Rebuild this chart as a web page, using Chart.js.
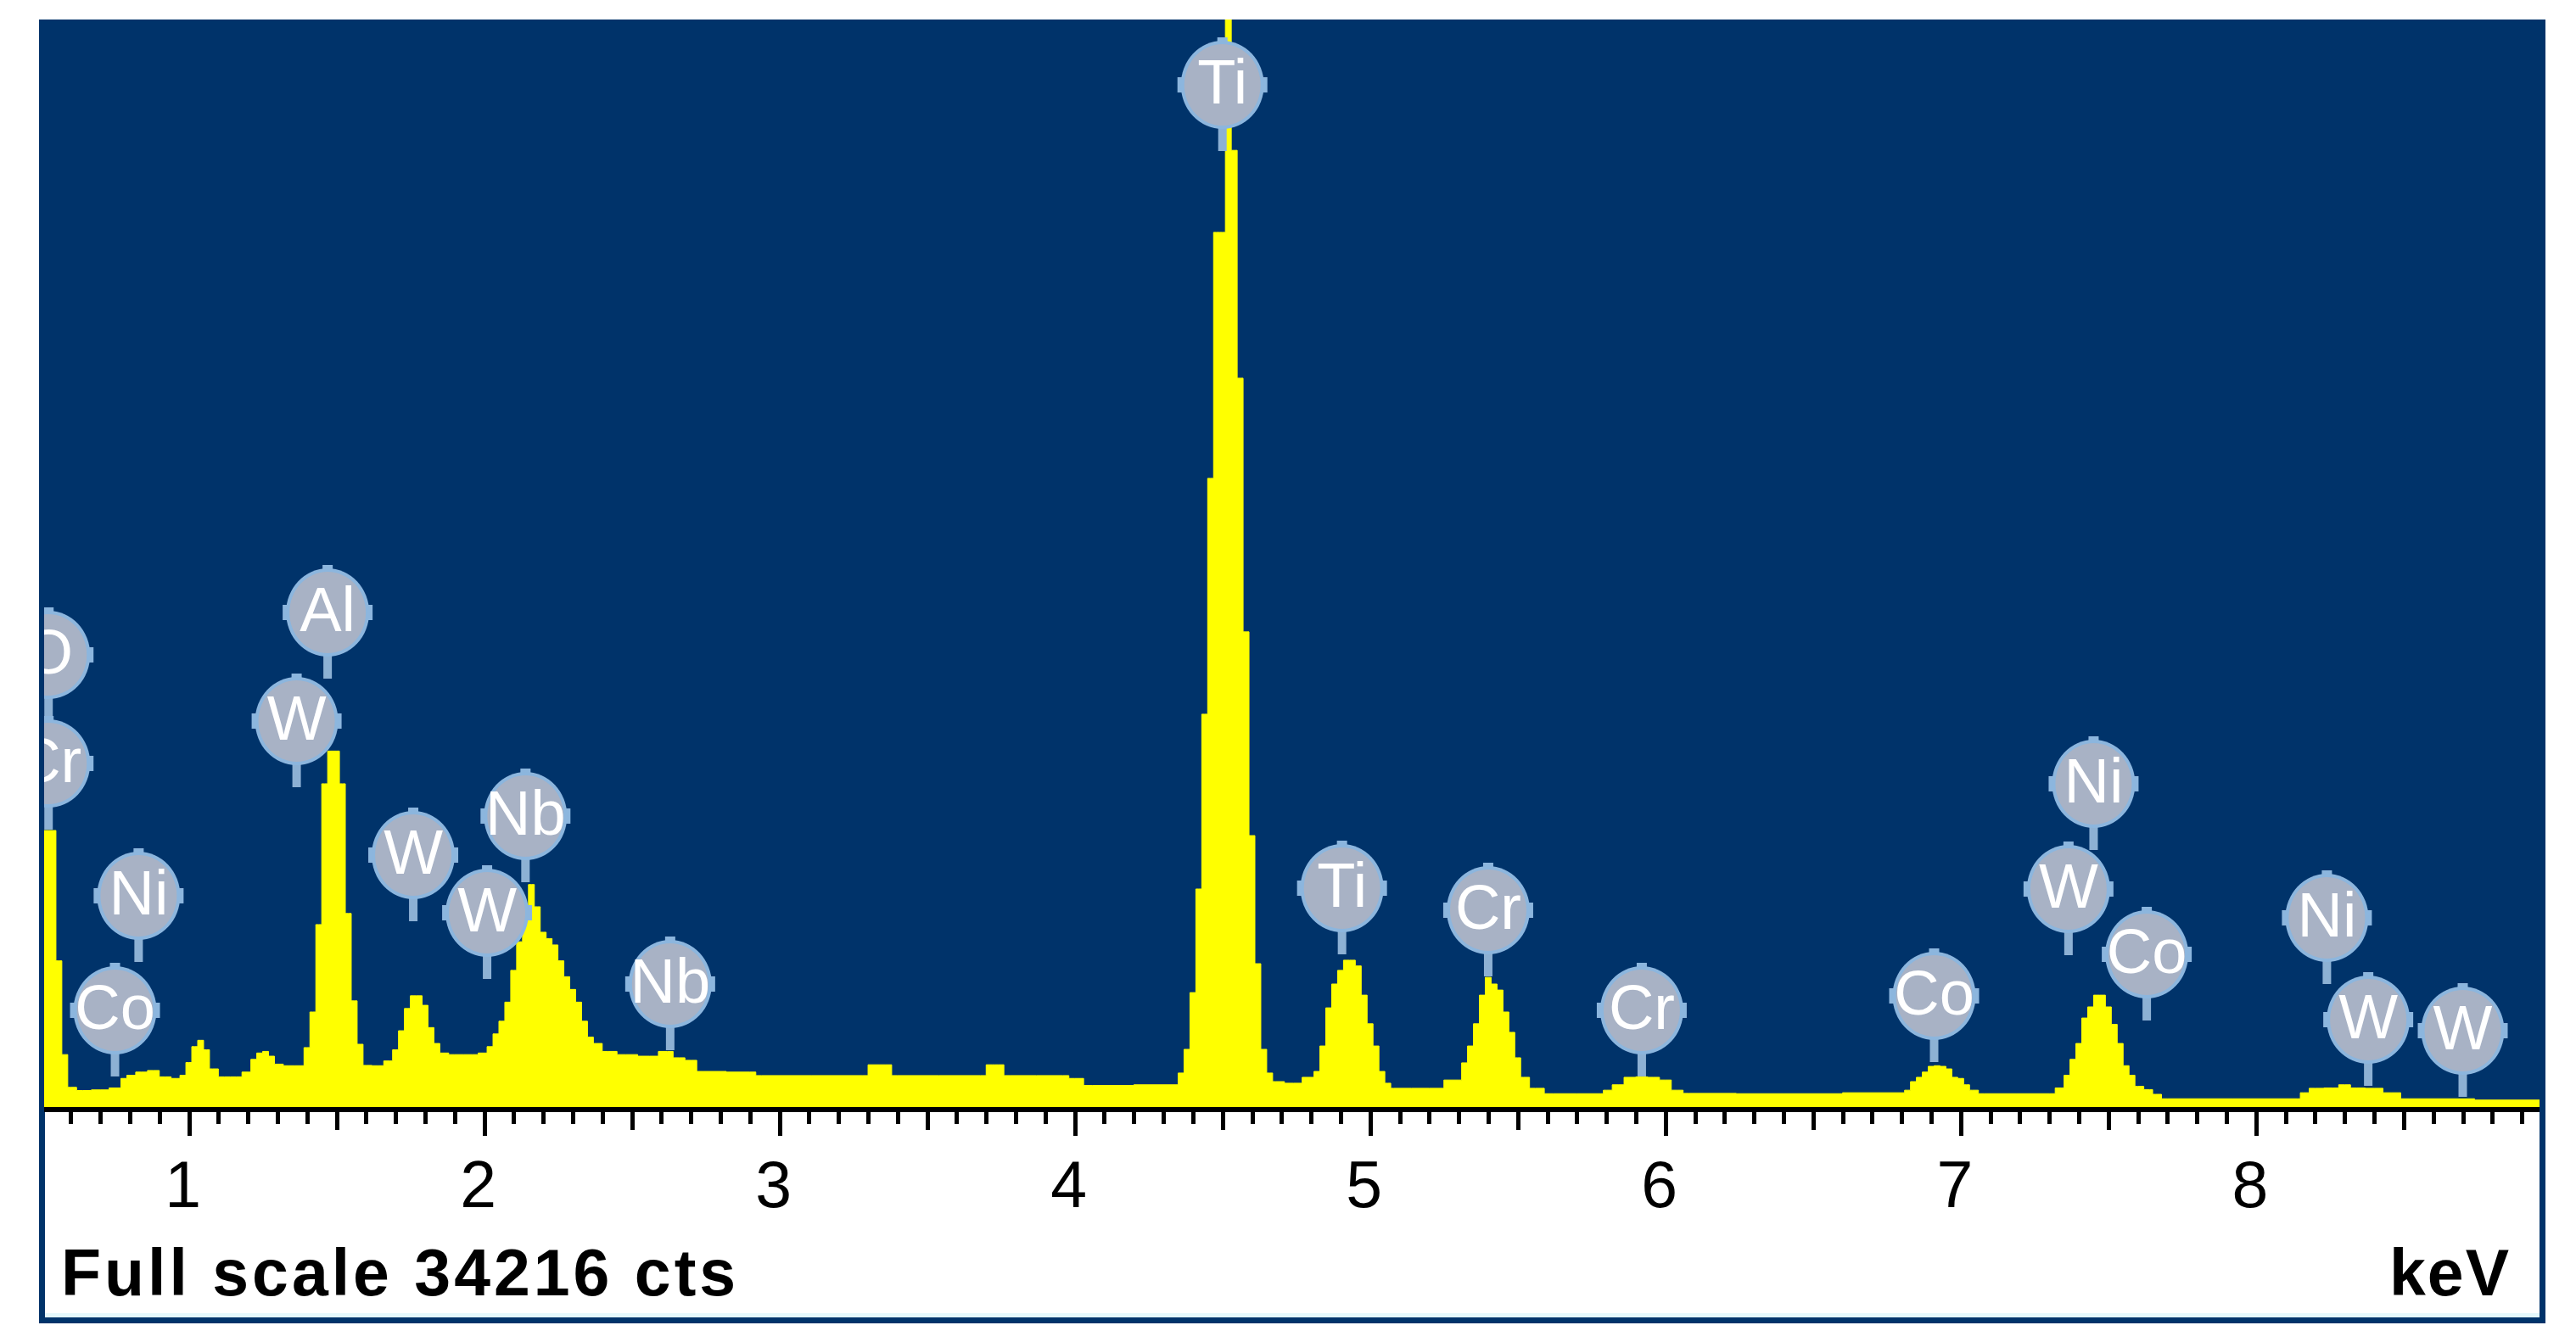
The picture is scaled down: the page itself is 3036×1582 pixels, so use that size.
<!DOCTYPE html>
<html lang="en">
<head>
  <meta charset="UTF-8" />
  <title>EDS spectrum</title>
  <script src="https://cdn.jsdelivr.net/npm/chart.js@4.4.1/dist/chart.umd.min.js"></script>
  <style>
    html, body { margin: 0; padding: 0; background: #ffffff; }
  </style>
</head>
<body>
<canvas id="spectrum" width="3036" height="1582"></canvas>
<script>
    // spectrum channels (keV) and counts
    const energies = [
      0.51, 0.54, 0.56, 0.58, 0.60, 0.64, 0.70, 0.76, 0.78, 0.80, 0.84, 0.88, 0.92, 0.96, 0.98,
      1.00, 1.02, 1.04, 1.06, 1.08, 1.12, 1.16, 1.20, 1.22, 1.24, 1.26, 1.28, 1.30, 1.34, 1.38,
      1.40, 1.42, 1.44, 1.46, 1.48, 1.50, 1.52, 1.54, 1.56, 1.58, 1.60, 1.64, 1.68, 1.70, 1.72,
      1.74, 1.76, 1.78, 1.80, 1.82, 1.84, 1.86, 1.90, 1.96, 2.00, 2.02, 2.04, 2.06, 2.08, 2.10,
      2.12, 2.14, 2.16, 2.18, 2.20, 2.22, 2.24, 2.26, 2.28, 2.30, 2.32, 2.34, 2.36, 2.38, 2.42,
      2.48, 2.56, 2.62, 2.66, 2.70, 2.74, 2.90, 2.94, 3.28, 3.32, 3.36, 3.40, 3.68, 3.72, 3.74,
      3.78, 3.96, 4.00, 4.06, 4.34, 4.36, 4.38, 4.40, 4.42, 4.44, 4.46, 4.48, 4.50, 4.52, 4.54,
      4.56, 4.58, 4.60, 4.62, 4.64, 4.66, 4.68, 4.74, 4.80, 4.82, 4.84, 4.86, 4.88, 4.90, 4.92,
      4.94, 4.96, 4.98, 5.00, 5.02, 5.04, 5.06, 5.08, 5.20, 5.30, 5.32, 5.34, 5.36, 5.38, 5.40,
      5.42, 5.44, 5.46, 5.48, 5.50, 5.52, 5.56, 5.62, 5.78, 5.80, 5.84, 5.88, 5.92, 5.96, 6.00,
      6.04, 6.08, 6.40, 6.80, 6.82, 6.84, 6.86, 6.88, 6.90, 6.92, 6.94, 6.96, 6.98, 7.00, 7.02,
      7.04, 7.08, 7.30, 7.34, 7.36, 7.38, 7.40, 7.42, 7.44, 7.46, 7.48, 7.50, 7.52, 7.54, 7.56,
      7.58, 7.60, 7.64, 7.66, 7.70, 8.14, 8.16, 8.20, 8.26, 8.30, 8.34, 8.40, 8.46, 8.52, 8.96
    ];
    const counts = [
      8700, 8700, 4600, 1650, 620, 520, 540, 600, 900, 1000, 1100, 1150, 950, 900, 1000,
      1400, 1900, 2100, 1800, 1200, 950, 950, 1100, 1500, 1700, 1750, 1600, 1350, 1300, 1300,
      1870, 2990, 5740, 10170, 11200, 11200, 10170, 6090, 3340, 1975, 1310, 1300, 1450, 1800, 2400,
      3100, 3500, 3500, 3200, 2500, 2000, 1700, 1650, 1650, 1700, 1900, 2300, 2700, 3300, 4300,
      5200, 5900, 7000, 6300, 5500, 5300, 5100, 4600, 4100, 3700, 3300, 2700, 2200, 2000, 1750,
      1650, 1600, 1750, 1550, 1470, 1120, 1100, 990, 990, 1330, 1330, 990, 990, 1330, 1330,
      990, 990, 900, 680, 700, 1070, 1815, 3600, 6860, 12360, 19780, 27520, 27520, 34216, 30100,
      22930, 14950, 8540, 4510, 1815, 1070, 800, 750, 935, 1120, 1920, 3120, 3870, 4300, 4620,
      4620, 4440, 3520, 2620, 1920, 1120, 750, 590, 590, 850, 1390, 1920, 2620, 3520, 4080,
      3870, 3680, 2990, 2350, 1550, 935, 590, 420, 420, 530, 700, 935, 950, 935, 850,
      530, 430, 420, 450, 530, 800, 935, 1100, 1280, 1300, 1280, 1200, 935, 900, 700,
      530, 420, 420, 600, 1000, 1500, 2000, 2800, 3150, 3520, 3520, 3150, 2600, 2000, 1300,
      1000, 650, 550, 400, 260, 260, 450, 590, 600, 700, 600, 590, 450, 260, 220
    ];

    // element markers: symbol, line energy (keV), height of the marker centre (counts)
    const peakLabels = ["O", "Cr", "Co", "Ni", "W", "Al", "W", "W", "Nb", "Nb", "Ti",
                        "Ti", "Cr", "Cr", "Co", "W", "Ni", "Co", "Ni", "W", "W"];
    const peakEnergies = [0.525, 0.525, 0.75, 0.83, 1.365, 1.47, 1.76, 2.01, 2.14, 2.63, 4.50,
                          4.905, 5.40, 5.92, 6.91, 7.365, 7.45, 7.63, 8.24, 8.38, 8.70];
    const peakLabelHeights = [14226, 10810, 3043, 6646, 12144, 15560, 7927, 6112, 9155, 3870, 32160,
                              6886, 6192, 3043, 3496, 6859, 10169, 4804, 5952, 2749, 2402];

    const tickLabels = ["1", "2", "3", "4", "5", "6", "7", "8"];
    const fullScale = 34216;
    const energyRange = [0.51, 8.96];

    const plotBlue = "#00336a";

    // window frame, blue plot field and white scale panel
    const framePlugin = {
      id: "frame",
      beforeDraw(chart) {
        const { ctx, chartArea } = chart;
        ctx.save();
        ctx.fillStyle = "#ffffff";
        ctx.fillRect(0, 0, chart.width, chart.height);
        ctx.fillStyle = plotBlue;
        ctx.fillRect(chartArea.left - 6, chartArea.top, chartArea.width + 13, 1560 - chartArea.top);
        ctx.fillStyle = "#ffffff";
        ctx.fillRect(chartArea.left + 1, chartArea.bottom, chartArea.width - 1, 1548 - chartArea.bottom);
        ctx.fillStyle = "#e4f8fc";
        ctx.fillRect(chartArea.left + 1, 1548, chartArea.width - 1, 5);
        ctx.restore();
      },
      afterDraw(chart) {
        const { ctx, chartArea, scales: { x } } = chart;
        ctx.save();
        // axis line and tick marks
        ctx.fillStyle = "#000000";
        ctx.fillRect(chartArea.left, chartArea.bottom, chartArea.width, 6);
        x.ticks.forEach((t) => {
          const px = x.getPixelForValue(t.value);
          const tenths = Math.round(t.value * 10);
          let len = 14;
          if (tenths % 10 === 0) len = 28;
          else if (tenths % 5 === 0) len = 21;
          ctx.fillRect(Math.round(px) - 2, chartArea.bottom + 6, 5, len);
        });
        // captions
        ctx.font = 'bold 77px "Liberation Sans", Arial, sans-serif';
        ctx.textBaseline = "alphabetic";
        ctx.letterSpacing = "4px";
        ctx.textAlign = "left";
        ctx.fillText("Full scale " + fullScale + " cts", chartArea.left + 20, 1527);
        ctx.letterSpacing = "2px";
        ctx.textAlign = "right";
        ctx.fillText("keV", chartArea.right - 34, 1527);
        ctx.restore();
      }
    };

    // grey element balloons with a stem pointing down at the line
    const labelPlugin = {
      id: "peakLabels",
      afterDatasetsDraw(chart) {
        const { ctx, chartArea, scales: { x, y } } = chart;
        ctx.save();
        ctx.beginPath();
        ctx.rect(chartArea.left, chartArea.top, chartArea.width, chartArea.height);
        ctx.clip();
        peakLabels.forEach((name, i) => {
          const cx = x.getPixelForValue(peakEnergies[i]);
          const cy = y.getPixelForValue(peakLabelHeights[i]);
          ctx.fillStyle = "#8db1d4";
          ctx.fillRect(cx - 5, cy + 40, 10, 38);
          ctx.fillStyle = "#8cb6de";
          ctx.fillRect(cx - 6, cy - 56, 12, 8);
          ctx.fillRect(cx - 53, cy - 9, 8, 18);
          ctx.fillRect(cx + 45, cy - 9, 8, 18);
          ctx.beginPath();
          ctx.ellipse(cx, cy, 49, 52, 0, 0, Math.PI * 2);
          ctx.fill();
          ctx.beginPath();
          ctx.ellipse(cx, cy, 45, 48, 0, 0, Math.PI * 2);
          ctx.fillStyle = "#a8b2c5";
          ctx.fill();
          ctx.fillStyle = "#ffffff";
          ctx.font = '74px "Liberation Sans", Arial, sans-serif';
          ctx.textAlign = "center";
          ctx.textBaseline = "middle";
          ctx.fillText(name, cx, cy + 2);
        });
        ctx.restore();
      }
    };

    const points = energies.map((e, i) => ({ x: e, y: counts[i] }));

    const config = {
      type: "line",
      data: {
        datasets: [{
          label: "Counts",
          data: points,
          stepped: "middle",
          fill: "origin",
          backgroundColor: "#ffff00",
          borderColor: "#ffff00",
          borderWidth: 1,
          pointRadius: 0
        }]
      },
      options: {
        responsive: false,
        animation: false,
        events: [],
        layout: { padding: { left: 52, right: 43, top: 23, bottom: 22 } },
        plugins: {
          legend: { display: false },
          tooltip: { enabled: false },
          title: { display: false }
        },
        scales: {
          x: {
            type: "linear",
            min: energyRange[0],
            max: energyRange[1],
            grid: { display: false, drawTicks: false },
            border: { display: false },
            afterFit: (scale) => { scale.height = 255; },
            ticks: {
              stepSize: 0.1,
              includeBounds: false,
              autoSkip: false,
              maxRotation: 0,
              padding: 51,
              labelOffset: -7,
              color: "#000000",
              font: { family: '"Liberation Sans", Arial, sans-serif', size: 77 },
              callback: (v) => {
                const r = Math.round(v);
                return Math.abs(v - r) < 1e-6 && r >= 1 && r <= tickLabels.length ? tickLabels[r - 1] : "";
              }
            }
          },
          y: {
            display: false,
            min: 0,
            max: fullScale
          }
        }
      },
      plugins: [framePlugin, labelPlugin]
    };

    new Chart(document.getElementById("spectrum"), config);
</script>
</body>
</html>
